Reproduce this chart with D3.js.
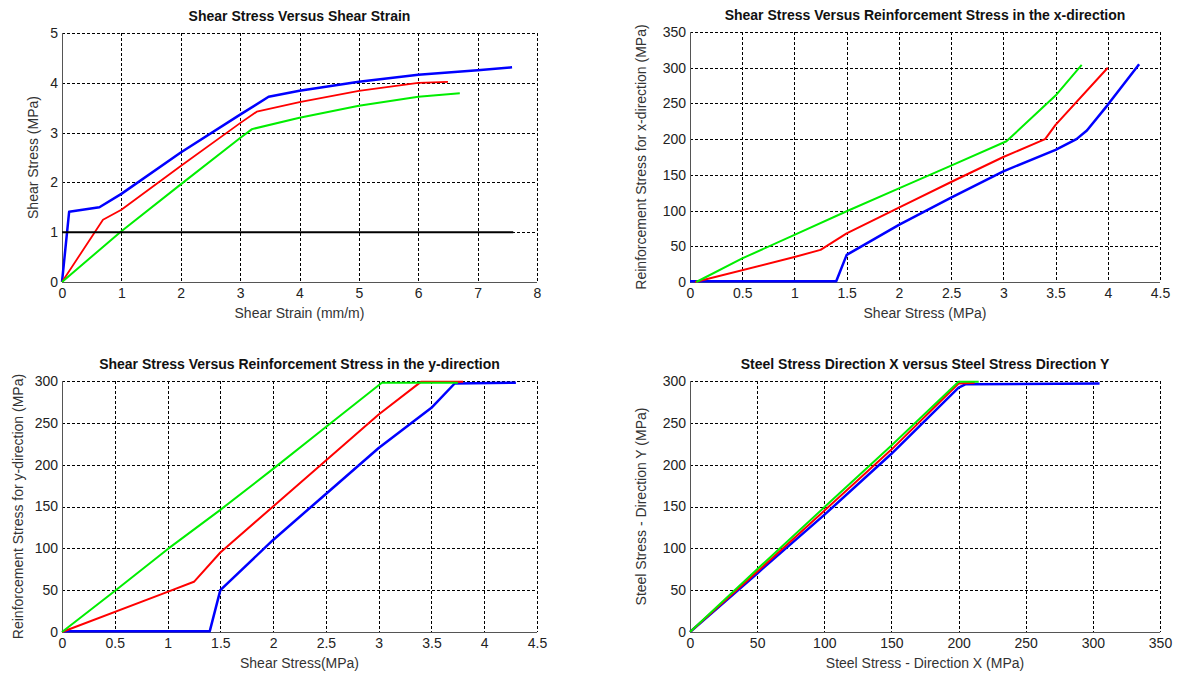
<!DOCTYPE html>
<meta charset="utf-8">
<head>
<style>
  body { margin: 0; background: #fff; }
  svg { display: block; }
  text { font-family: "Liberation Sans", Arial, sans-serif; fill: #222; }
  .title { font-weight: bold; font-size: 14px; fill: #111; }
  .lbl { font-size: 14px; fill: #333; }
  .tick text { font-size: 14px; fill: #222; }
  .grid line { stroke: #000; stroke-width: 1; stroke-dasharray: 3,2; shape-rendering: crispEdges; }
  .frame { stroke: #555; stroke-width: 1.2; fill: none; shape-rendering: crispEdges; }
  .ln { fill: none; stroke-linejoin: round; }
</style>
</head>
<body>
<svg id="chart" width="1179" height="675"></svg>
<script src="https://d3js.org/d3.v7.min.js"></script>
<script>
// ---- data ----
// panel 1: shear strain (x) vs shear stress (y)
var p1Blue  = [[0,0],[0.03,0.35],[0.12,1.41],[0.63,1.5],[1,1.77],[2,2.6],[3,3.36],[3.48,3.72],[4,3.84],[5,4.02],[6,4.16],[7,4.25],[7.58,4.31]];
var p1Red   = [[0,0],[0.69,1.25],[1,1.45],[2,2.33],[3,3.19],[3.28,3.42],[4,3.61],[5,3.84],[6,4.0],[6.5,4.02]];
var p1Green = [[0,0],[1,1.02],[2,1.96],[3,2.89],[3.2,3.07],[4,3.3],[5,3.54],[6,3.72],[6.7,3.79]];
var p1Black = [[0,1],[7.6,1]];

// panel 2: shear stress vs reinforcement stress x
var p2Blue  = [[0,1],[1.4,1],[1.5,38],[2,80],[2.5,118],[3,155],[3.5,185],[3.7,200],[3.8,212],[4,248],[4.3,305]];
var p2Red   = [[0.05,0],[1,35],[1.25,45],[1.5,68],[2,104],[2.5,140],[3,175],[3.4,200],[3.5,220],[4,300]];
var p2Green = [[0.06,0],[0.5,33],[1,66],[1.5,99],[2,131],[2.5,163],[3.03,197],[3.5,261],[3.75,304]];

// panel 3: shear stress vs reinforcement stress y
var p3Blue  = [[0,1],[1.4,1],[1.5,50],[2,110],[2.5,165],[3,220],[3.5,268],[3.72,297],[4.3,298]];
var p3Red   = [[0,0],[1,48],[1.25,60],[1.5,95],[2,150],[2.5,205],[3,260],[3.4,299],[3.8,299]];
var p3Green = [[0,0],[0.5,49],[1,99],[1.5,146],[2,195],[2.5,245],[3.03,298],[3.75,298]];

// panel 4: steel stress x vs steel stress y
var p4Blue  = [[0,0],[50,70],[100,140],[150,213],[200,292],[205,296],[305,297]];
var p4Red   = [[0,0],[50,72],[100,145],[150,218],[200,297],[212,298]];
var p4Green = [[0,0],[50,75],[100,149],[150,223],[200,299],[215,299]];

var xTicks1 = [0,1,2,3,4,5,6,7,8],  yTicks1 = [0,1,2,3,4,5];
var xTicks2 = [0,0.5,1,1.5,2,2.5,3,3.5,4,4.5], yTicks2 = [0,50,100,150,200,250,300,350];
var yTicks3 = [0,50,100,150,200,250,300];
var xTicks4 = [0,50,100,150,200,250,300,350];

var panels = [
  {box:[62,537,33,282], xd:[0,8], yd:[0,5], xt:xTicks1, yt:yTicks1,
   title:"Shear Stress Versus Shear Strain", xl:"Shear Strain (mm/m)", yl:"Shear Stress (MPa)", ylx:33,
   series:[[p1Blue,"#0000ff",2.5],[p1Red,"#ff0000",1.8],[p1Green,"#00ee00",2],[p1Black,"#000",2]]},
  {box:[690,1160,32,282], xd:[0,4.5], yd:[0,350], xt:xTicks2, yt:yTicks2,
   title:"Shear Stress Versus Reinforcement Stress in the x-direction", xl:"Shear Stress (MPa)", yl:"Reinforcement Stress for x-direction (MPa)", ylx:641,
   series:[[p2Blue,"#0000ff",2.5],[p2Red,"#ff0000",2],[p2Green,"#00ee00",2]]},
  {box:[62,537,381,632], xd:[0,4.5], yd:[0,300], xt:xTicks2, yt:yTicks3,
   title:"Shear Stress Versus Reinforcement Stress in the y-direction", xl:"Shear Stress(MPa)", yl:"Reinforcement Stress for y-direction (MPa)", ylx:18,
   series:[[p3Blue,"#0000ff",2.5],[p3Red,"#ff0000",2],[p3Green,"#00ee00",2]]},
  {box:[690,1160,381,632], xd:[0,350], yd:[0,300], xt:xTicks4, yt:yTicks3,
   title:"Steel Stress Direction X versus Steel Stress Direction Y", xl:"Steel Stress - Direction X (MPa)", yl:"Steel Stress - Direction Y (MPa)", ylx:641,
   series:[[p4Blue,"#0000ff",2.5],[p4Red,"#ff0000",2],[p4Green,"#00ee00",2]]}
];

var svg = d3.select("#chart");

panels.forEach(function(p) {
  var L = p.box[0], R = p.box[1], T = p.box[2], B = p.box[3];
  var x = d3.scaleLinear().domain(p.xd).range([L, R]);
  var y = d3.scaleLinear().domain(p.yd).range([B, T]);
  var g = svg.append("g");

  // dotted grid
  var grid = g.append("g").attr("class", "grid");
  grid.selectAll(".gx").data(p.xt.slice(1)).enter().append("line")
    .attr("x1", function(d){ return Math.round(x(d)) + 0.5; })
    .attr("x2", function(d){ return Math.round(x(d)) + 0.5; })
    .attr("y1", T).attr("y2", B);
  grid.selectAll(".gy").data(p.yt.slice(1)).enter().append("line")
    .attr("y1", function(d){ return Math.round(y(d)) + 0.5; })
    .attr("y2", function(d){ return Math.round(y(d)) + 0.5; })
    .attr("x1", L).attr("x2", R);

  // axes (labels only, frame drawn separately)
  var xa = g.append("g").attr("transform", "translate(0," + B + ")")
    .call(d3.axisBottom(x).tickValues(p.xt).tickSize(0).tickPadding(6).tickFormat(d3.format("")));
  xa.select(".domain").remove();
  var ya = g.append("g").attr("transform", "translate(" + L + ",0)")
    .call(d3.axisLeft(y).tickValues(p.yt).tickSize(0).tickPadding(4).tickFormat(d3.format("")));
  ya.select(".domain").remove();

  g.append("path").attr("class", "frame")
    .attr("d", "M" + (L + 0.5) + "," + T + "V" + (B + 0.5) + "H" + R);

  var line = d3.line().x(function(d){ return x(d[0]); }).y(function(d){ return y(d[1]); });
  p.series.forEach(function(s) {
    g.append("path").attr("class", "ln").attr("d", line(s[0]))
      .attr("stroke", s[1]).attr("stroke-width", s[2]);
  });

  g.append("text").attr("class", "title").attr("text-anchor", "middle")
    .attr("x", (L + R) / 2).attr("y", T - 12).text(p.title);
  g.append("text").attr("class", "lbl").attr("text-anchor", "middle")
    .attr("x", (L + R) / 2).attr("y", B + 36).text(p.xl);
  g.append("text").attr("class", "lbl").attr("text-anchor", "middle")
    .attr("transform", "translate(" + (p.ylx + 5) + "," + ((T + B) / 2) + ") rotate(-90)")
    .text(p.yl);
});
</script>
</body>
</html>
